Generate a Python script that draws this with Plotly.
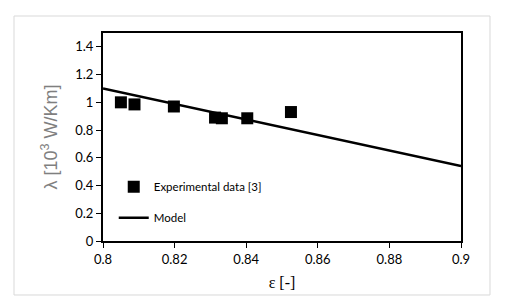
import plotly.graph_objects as go

# Data
exp_x = [0.805, 0.8088, 0.8198, 0.8313, 0.8332, 0.8403, 0.8525]
exp_y = [1.00, 0.985, 0.97, 0.89, 0.885, 0.885, 0.93]
model_x = [0.8, 0.9]
model_y = [1.10, 0.54]

x_ticks = [0.8, 0.82, 0.84, 0.86, 0.88, 0.9]
x_ticktext = ["0.8", "0.82", "0.84", "0.86", "0.88", "0.9"]
y_ticks = [0, 0.2, 0.4, 0.6, 0.8, 1.0, 1.2, 1.4]
y_ticktext = ["0", "0.2", "0.4", "0.6", "0.8", "1", "1.2", "1.4"]

fig = go.Figure()
fig.add_trace(go.Scatter(
    x=exp_x, y=exp_y, mode="markers", name="Experimental data [3]",
    marker=dict(symbol="square", size=12, color="black"),
    legendgroup="a",
))
fig.add_trace(go.Scatter(
    x=model_x, y=model_y, mode="lines", name="Model",
    line=dict(color="black", width=2.5),
    legendgroup="b",
))

tickfont = dict(family="Lato, Open Sans, sans-serif", size=13, color="black")

# page body has an 8px default margin, so the figure is sized to fit the window
fig.update_layout(
    width=497, height=299,
    margin=dict(l=95, r=44, t=25, b=66),
    paper_bgcolor="white", plot_bgcolor="white",
    showlegend=True,
    legend=dict(
        x=0.03, y=0.186, xanchor="left", yanchor="middle",
        bgcolor="rgba(0,0,0,0)",
        font=dict(family="Lato, Open Sans, sans-serif", size=11.5, color="black"),
        traceorder="grouped", tracegroupgap=12,
    ),
    xaxis=dict(
        range=[0.8, 0.9], tickvals=x_ticks, ticktext=x_ticktext,
        showgrid=False, zeroline=False, automargin=False,
        showline=True, linecolor="black", linewidth=2, mirror=True,
        ticks="outside", ticklen=5, tickcolor="black", tickwidth=1,
        tickfont=tickfont,
        title=dict(text="ε [-]", font=dict(family="Liberation Serif, serif", size=16, color="black"),
                   standoff=11),
    ),
    yaxis=dict(
        range=[0, 1.5], tickvals=y_ticks, ticktext=y_ticktext,
        showgrid=False, zeroline=False, automargin=False,
        showline=True, linecolor="black", linewidth=2, mirror=True,
        ticks="outside", ticklen=5, tickcolor="black", tickwidth=1,
        tickfont=tickfont,
        title=dict(text="λ [10<sup>3</sup> W/Km]",
                   font=dict(family="Liberation Sans, Arial, sans-serif", size=18, color="#7f7f7f"),
                   standoff=13),
    ),
    shapes=[dict(
        type="rect", xref="paper", yref="paper",
        x0=-0.2486, x1=1.081, y0=-0.2596, y1=1.0817,
        line=dict(color="#d9d9d9", width=1), fillcolor="rgba(0,0,0,0)",
        layer="below",
    )],
)

fig.write_html("out.html")
